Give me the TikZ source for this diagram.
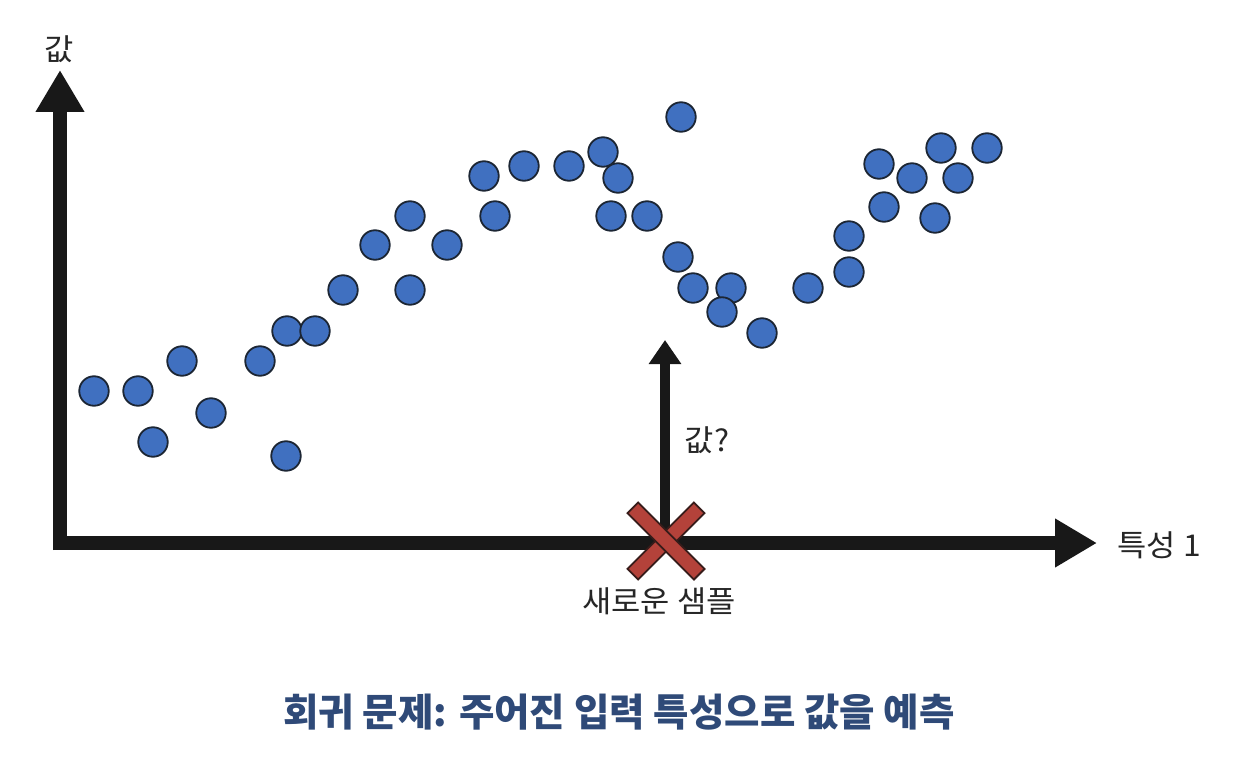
\documentclass[tikz,border=0pt]{standalone}
\usepackage{fontspec}
\newfontfamily\cjk{Noto Sans CJK KR}
\usetikzlibrary{arrows.meta}
\definecolor{dotblue}{RGB}{64,112,192}
\definecolor{dotline}{RGB}{28,38,52}
\definecolor{xred}{RGB}{180,66,58}
\definecolor{xline}{RGB}{55,28,26}
\definecolor{capblue}{RGB}{47,74,120}
\definecolor{axisblack}{RGB}{24,24,24}
\tikzset{
  dot/.style={circle,fill=dotblue,draw=dotline,line width=1.8pt,minimum size=29.5pt,inner sep=0pt},
  axisline/.style={draw=axisblack,line width=14pt,-{Triangle[length=42pt,width=46pt]}},
  queryline/.style={draw=axisblack,line width=10pt,-{Triangle[length=24pt,width=31pt]}},
  lbl/.style={font=\cjk\fontsize{30}{34}\selectfont,text=black!85,inner sep=0pt,xscale=1.06},
  captionstyle/.style={font=\cjk\bfseries\fontsize{38.5}{44}\selectfont,text=capblue,inner sep=0pt},
  xarm/.style={fill=xred,draw=xline,line width=1.8pt}
}
\begin{document}
\begin{tikzpicture}[x=1pt,y=-1pt]
\useasboundingbox (0,0) rectangle (1240,770);
\fill[white] (0,0) rectangle (1240,770);
% axes
\coordinate (origin) at (60,543);
\coordinate (ytip) at (60,70);
\coordinate (xtip) at (1097,543);
\coordinate (corner) at (53,543);
\coordinate (vbase) at (60,550);
\draw[axisline] (vbase) -- (ytip);
\draw[axisline] (corner) -- (xtip);
% query arrow
\coordinate (sample) at (665,541);
\coordinate (qtip) at (665,340);
\draw[queryline] (sample) -- (qtip);
% X marker
\begin{scope}[shift={(666,541)}]
\draw[xarm,rotate=45] (-47,-7.5) rectangle (47,7.5);
\draw[xarm,rotate=-45] (-47,-7.5) rectangle (47,7.5);
\end{scope}
% dots
\foreach \n/\x/\y in {
 1/94/391, 2/138/391, 3/153/442, 4/182/361, 5/211/413, 6/260/361, 7/286/456,
 8/287/331, 9/315/331, 10/343/290, 11/375/245, 12/410/216, 13/410/290,
 14/447/245, 15/484/176, 16/495/216, 17/524/166, 18/569/166, 19/603/152,
 20/618/178, 21/611/216, 22/647/216, 23/681/117, 24/678/257, 25/693/288,
 26/731/288, 27/722/312, 28/762/333, 29/808/288, 30/849/272, 31/849/236,
 32/879/164, 33/884/207, 34/912/178, 35/935/218, 36/941/148, 37/958/178,
 38/987/148}
 \node[dot] (d\n) at (\x,\y) {};
% labels
\node[lbl] (ylabel) at (59,49) {값};
\node[lbl] (xlabel) at (1159,545) {특성 1};
\node[lbl] (qlabel) at (707,440) {값?};
\node[lbl] (slabel) at (659,601) {새로운 샘플};
\node[captionstyle] (caption) at (619,712) {회귀 문제: 주어진 입력 특성으로 값을 예측};
\end{tikzpicture}
\end{document}
